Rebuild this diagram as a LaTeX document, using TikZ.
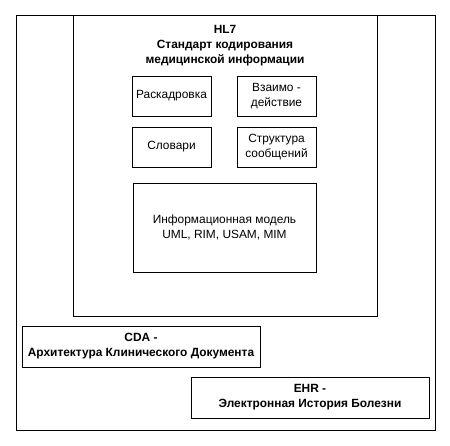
\documentclass[tikz,border=0pt]{standalone}
\usepackage{fontspec}
\setmainfont{Liberation Sans}
\begin{document}
\begin{tikzpicture}[x=1pt, y=-1pt,
    box/.style={draw, line width=0.9pt, inner sep=0pt, align=center, font=\fontsize{11.9}{15}\selectfont},
    wide/.style={box, minimum width=238pt, minimum height=41pt, font=\fontsize{11.9}{15}\selectfont\bfseries}]
            \useasboundingbox (0,0) rectangle (450,446);
            \node[box, minimum width=419pt, minimum height=415pt] (frame) at (225.5,222.5) {};
            \node[box, minimum width=304pt, minimum height=301pt] (hl7) at (225,165.5) {};
            \node[align=center, inner sep=0pt, anchor=north, font=\fontsize{11.9}{15}\selectfont\bfseries] (title) at (225,25.5) {HL7\\Стандарт кодирования\\медицинской информации};
            \node[box, minimum width=79pt, minimum height=40pt] (storyboard) at (171.5,96) {Раскадровка};
            \node[box, minimum width=79pt, minimum height=40pt] (interaction) at (276.5,96) {Взаимо -\\действие};
            \node[box, minimum width=79pt, minimum height=40pt] (vocab) at (171.5,147) {Словари};
            \node[box, minimum width=79pt, minimum height=40pt] (msgstruct) at (276.5,147) {Структура\\сообщений};
            \node[box, minimum width=183pt, minimum height=89pt] (infomodel) at (224.5,227.5) {Информационная модель\\UML, RIM, USAM, MIM};
            \node[wide] (cda) at (141,346.5) {CDA -\\Архитектура Клинического Документа};
            \node[wide] (ehr) at (310,397.5) {EHR -\\Электронная История Болезни};
        \end{tikzpicture}
\end{document}
